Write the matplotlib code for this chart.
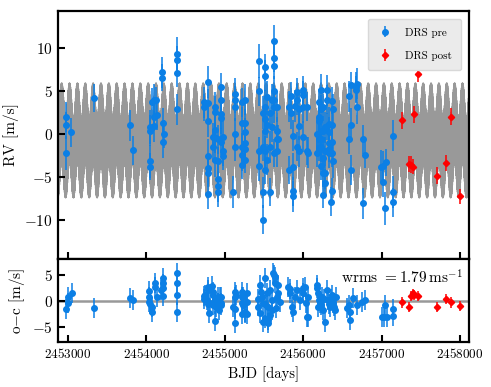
import numpy as np
import matplotlib
matplotlib.use('Agg')
import matplotlib.pyplot as plt
from matplotlib.ticker import ScalarFormatter

plt.rcParams['font.family'] = 'serif'
plt.rcParams['font.serif'] = ['cmr10']
plt.rcParams['mathtext.fontset'] = 'cm'
plt.rcParams['axes.formatter.use_mathtext'] = True

# ---- data ----
# DRS pre: RV panel
pre_t = [2452974, 2452974, 2452974, 2453038, 2453332, 2453791, 2453829,
         2454046, 2454046, 2454046, 2454046, 2454071, 2454097, 2454097, 2454097,
         2454122, 2454135, 2454199, 2454199, 2454212, 2454212, 2454224,
         2454390, 2454390, 2454390, 2454390, 2454735, 2454735,
         2454786, 2454786, 2454786, 2454786, 2454786, 2454786, 2454786,
         2454849, 2454849, 2454875, 2454875, 2454875, 2454875, 2454875,
         2454913, 2454913, 2454913, 2454913, 2454913,
         2454952, 2454952, 2454952, 2454952, 2454952, 2454977, 2454977, 2454977,
         2455105, 2455130, 2455130, 2455130, 2455130, 2455130,
         2455219, 2455219, 2455219, 2455219, 2455219,
         2455258, 2455258, 2455258, 2455258, 2455258, 2455258,
         2455436, 2455436, 2455436, 2455436, 2455487, 2455487, 2455487, 2455487,
         2455513, 2455513, 2455513, 2455513, 2455513, 2455513, 2455513,
         2455538, 2455538, 2455538, 2455577, 2455577, 2455577, 2455602, 2455602,
         2455628, 2455628, 2455628, 2455628, 2455628, 2455628, 2455628,
         2455666, 2455666, 2455666, 2455666, 2455679,
         2455819, 2455819, 2455844, 2455844, 2455870, 2455870, 2455870, 2455870,
         2455895, 2455921, 2455921, 2455921, 2455946, 2455946, 2455946,
         2455997, 2455997, 2455997, 2455997, 2456048, 2456048, 2456061,
         2456176, 2456176, 2456201, 2456201, 2456201, 2456201, 2456201,
         2456227, 2456227, 2456227, 2456227, 2456227, 2456227,
         2456253, 2456253, 2456253, 2456253, 2456253,
         2456278, 2456278, 2456278, 2456278, 2456304, 2456304, 2456304,
         2456329, 2456329, 2456329, 2456329, 2456329, 2456355,
         2456367, 2456367, 2456367, 2456367, 2456367, 2456380, 2456380,
         2456584, 2456584, 2456610, 2456610, 2456610, 2456673, 2456673,
         2456686, 2456686, 2456763, 2456763, 2456788,
         2456992, 2457018, 2457018, 2457043, 2457056, 2457145, 2457145, 2457145]
pre_rv = [2.0, 1.0, -2.2, 0.2, 4.2, 1.0, -1.9,
          0.8, 0.4, -3.2, -3.8, 3.7, 4.0, 2.0, 0.9,
          4.0, 2.2, 7.2, 6.6, 1.3, -0.9, 0.0,
          9.4, 8.6, 7.1, 2.9, 3.7, 3.1,
          6.1, 3.6, 1.5, -2.6, -4.0, -4.5, -7.0,
          -0.3, -1.5, 3.2, 2.6, 0.5, -0.4, -3.0,
          -0.6, -3.1, -5.3, -6.1, -6.8,
          5.5, 4.0, 2.3, 1.9, -0.9, -0.3, -2.0, -2.6,
          -6.8, 4.7, 4.0, 3.2, 0.0, -1.5,
          3.7, 1.3, -1.5, -2.4, -3.6,
          4.0, 1.3, 0.2, -1.0, -1.8, -3.0,
          8.5, 5.0, -2.0, -3.7, 2.5, -1.5, -6.8, -10.0,
          7.8, 6.8, 3.2, 1.7, 0.3, -2.0, -4.2,
          4.3, 1.1, -3.0, 2.5, -1.5, -6.8, 4.0, 0.8,
          10.9, 8.9, 8.0, 5.0, 4.0, 3.2, -2.2,
          3.2, 0.3, -0.6, -2.0, -0.6,
          3.2, -4.2, 4.4, 2.5, -0.2, -3.8, -6.7, -7.3,
          3.3, 4.9, 4.0, -1.5, 2.9, 0.9, -2.0,
          5.1, 4.6, 3.2, -0.3, 3.2, -2.0, -2.2,
          0.0, -2.2, 3.7, 2.0, 1.5, -0.6, -1.6,
          5.2, 2.9, 0.3, -0.6, -1.5, -3.7,
          3.1, 0.3, -2.8, -4.5, -7.1,
          0.8, -2.0, -4.5, -5.7, 5.1, 4.0, 0.9,
          1.2, 0.2, -1.0, -1.7, -2.2, -7.9,
          3.9, 1.1, -0.9, -2.2, -6.7, 2.9, -3.2,
          4.4, -0.6, 5.7, 1.1, -4.2, 5.5, 5.2,
          5.9, 3.1, -0.6, -8.1, -2.4,
          -3.8, -3.7, -5.6, -8.7, -3.3, -0.2, -6.8, -8.0]
pre_err = [1.8, 1.6, 2.0, 1.7, 1.6, 1.8, 1.7,
           2.0, 1.8, 1.9, 1.6, 1.7, 1.9, 1.6, 1.8,
           1.5, 1.7, 1.8, 1.6, 1.7, 1.9, 1.6,
           1.9, 1.7, 1.6, 1.8, 1.8, 1.6,
           1.9, 1.7, 1.8, 2.0, 1.6, 1.7, 1.8,
           1.6, 1.8, 1.7, 1.9, 1.6, 1.8, 2.0,
           1.7, 1.6, 1.9, 1.8, 1.7,
           1.6, 1.8, 1.7, 1.9, 1.6, 1.8, 1.7, 1.6,
           1.9, 1.8, 1.6, 1.7, 1.9, 1.6,
           1.7, 1.8, 1.6, 1.9, 1.7,
           1.8, 1.6, 1.7, 1.9, 1.8, 1.6,
           2.0, 1.7, 1.6, 1.8, 1.9, 1.7, 1.8, 1.7,
           1.6, 1.8, 1.9, 1.7, 1.6, 1.8, 1.7,
           1.9, 1.6, 1.8, 1.7, 1.9, 1.6, 1.8, 1.7,
           1.9, 1.7, 1.6, 1.8, 1.7, 1.9, 1.6,
           1.8, 1.7, 1.6, 1.9, 1.7,
           1.8, 1.6, 1.7, 1.9, 1.8, 1.6, 1.7, 1.8,
           1.9, 1.6, 1.8, 1.7, 1.9, 1.6, 1.8,
           1.7, 1.6, 1.9, 1.8, 1.7, 1.6, 1.8,
           1.9, 1.7, 1.6, 1.8, 1.7, 1.9, 1.6,
           1.8, 1.7, 1.6, 1.9, 1.8, 1.7,
           1.6, 1.8, 1.9, 1.7, 1.6,
           1.8, 1.7, 1.9, 1.6, 1.8, 1.7, 1.6,
           1.9, 1.8, 1.7, 1.6, 1.8, 1.7,
           1.6, 1.9, 1.8, 1.7, 1.6, 1.8, 1.9,
           1.8, 1.7, 1.6, 1.9, 1.8, 1.7, 1.6,
           1.8, 1.9, 1.7, 1.8, 1.6,
           1.9, 1.7, 1.8, 1.9, 1.6, 1.8, 1.9, 1.7]

# DRS pre: residuals
pre_oc_t = [2452974, 2453000, 2453000, 2453051, 2453332, 2453791, 2453829,
            2454033, 2454033, 2454033, 2454046, 2454071, 2454071, 2454110, 2454110,
            2454135, 2454186, 2454212, 2454212, 2454212, 2454212,
            2454390, 2454390, 2454390, 2454390,
            2454735, 2454735, 2454747, 2454773, 2454786, 2454786, 2454786, 2454798,
            2454811, 2454837, 2454849, 2454849, 2454849, 2454875, 2454875, 2454875,
            2454888, 2454913, 2454913, 2454913, 2454926, 2454939, 2454952, 2454952,
            2454952, 2455105, 2455130, 2455130, 2455130, 2455130, 2455143,
            2455219, 2455219, 2455219, 2455219, 2455232, 2455232, 2455258, 2455258,
            2455283, 2455283, 2455283,
            2455423, 2455423, 2455449, 2455449, 2455462, 2455474, 2455487, 2455487,
            2455513, 2455513, 2455525, 2455538, 2455551, 2455551, 2455551,
            2455577, 2455577, 2455602, 2455602, 2455615, 2455628, 2455640, 2455640,
            2455653, 2455666, 2455679, 2455679, 2455704,
            2455806, 2455832, 2455832, 2455857, 2455870, 2455895, 2455921, 2455959,
            2455997, 2455997, 2456023, 2456036, 2456048, 2456061, 2456061,
            2456176, 2456176, 2456189, 2456189, 2456201, 2456214, 2456227, 2456240,
            2456253, 2456265, 2456278, 2456304, 2456316, 2456329, 2456342, 2456355,
            2456367, 2456380, 2456393, 2456406, 2456418,
            2456559, 2456584, 2456597, 2456597, 2456635, 2456686, 2456750, 2456788,
            2457005, 2457031, 2457043, 2457069, 2457145, 2457145]
pre_oc = [-1.4, 0.85, -0.3, 1.5, -1.2, 0.7, 0.2,
          2.0, 0.85, -0.1, -0.5, -1.1, -2.0, 3.5, 2.8,
          0.85, 2.1, 4.4, 3.4, 2.5, 1.0,
          5.4, 3.5, 1.2, -2.0,
          1.0, 0.5, 1.2, 0.2, 2.1, 2.7, -0.5, -2.3,
          -0.4, 2.9, 1.7, 1.2, -0.8, -3.7, -0.6, 0.3,
          -1.1, -0.4, 0.85, -0.3, -1.7, 0.8, 0.85, -0.3,
          -0.8, -1.1, 1.8, 0.85, -1.4, -4.2, 1.2,
          1.7, 0.85, -0.3, -2.4, 0.8, -0.7, -2.1, -2.3,
          -0.2, -2.4, 1.5,
          0.5, -1.0, 3.1, -2.3, 1.7, 0.9, -0.4, -4.0,
          4.4, -3.2, -0.8, 1.5, -1.1, -3.6, -4.2,
          2.1, -2.6, 0.2, -1.7, 5.4, 5.0, 3.5, 4.6,
          -1.3, 0.8, 3.1, 1.5, -0.2,
          2.7, 1.5, 2.3, -1.1, -2.1, 0.8, 2.1, 0.2,
          1.5, 2.5, 2.7, -0.4, -3.0, 0.8, -3.0,
          3.1, 2.5, 1.5, -1.1, 0.3, -0.4, -0.8, 0.8,
          -1.7, 0.5, -4.0, 2.1, 0.2, -0.6, -1.1, 0.4,
          1.2, -0.4, -1.0, -1.7, 0.8,
          -1.3, -0.7, -3.6, -2.1, 0.6, -0.7, -0.2, 0.2,
          -3.0, -3.0, -0.7, -3.0, -1.5, -2.8]

# DRS post
post_t = [2457260, 2457349, 2457375, 2457400, 2457413, 2457464,
          2457707, 2457821, 2457885, 2458000]
post_rv = [1.6, -3.5, -3.6, -3.8, 2.3, 7.0, -4.9, -3.4, 2.0, -7.3]
post_err = [1.0, 0.9, 1.0, 0.9, 1.0, 0.9, 1.0, 0.9, 1.0, 0.9]
post_oc = [-0.2, -1.1, 1.0, 1.5, 1.2, 1.0, -1.1, 0.4, -0.2, -0.9]

# model curve (two sinusoidal terms)
model_offset = -0.75
P_long, K_long, T_long = 100.26, 2.2, 2452920.0
P_short, K_short = 3.1, 4.5

wrms_text = r'wrms $= 1.79\,\mathrm{ms}^{-1}$'

blue = '#0B7FE5'
red = '#FF0000'
grey = '#999999'

fig = plt.figure(figsize=(4.91, 3.87), dpi=100)
ax1 = fig.add_axes([0.118, 0.331, 0.837, 0.641])
ax2 = fig.add_axes([0.118, 0.116, 0.837, 0.215])

tm = np.linspace(2452860, 2458130, 40000)
model = (model_offset + K_long * np.cos(2 * np.pi * (tm - T_long) / P_long)
         + K_short * np.sin(2 * np.pi * tm / P_short))
ax1.plot(tm, model, color=grey, lw=1.2, zorder=1)

ax1.errorbar(pre_t, pre_rv, yerr=pre_err, fmt='o', ms=4, color=blue,
             ecolor=blue, elinewidth=1.1, capsize=0, label='DRS pre', zorder=3)
ax1.errorbar(post_t, post_rv, yerr=post_err, fmt='D', ms=3.2, color=red,
             ecolor=red, elinewidth=1.1, capsize=0, label='DRS post', zorder=3)

ax2.axhline(0, color=grey, lw=1.8, zorder=1)
ax2.errorbar(pre_oc_t, pre_oc, yerr=1.9, fmt='o', ms=4, color=blue,
             ecolor=blue, elinewidth=1.1, capsize=0, zorder=3)
ax2.errorbar(post_t, post_oc, yerr=post_err, fmt='D', ms=3.2, color=red,
             ecolor=red, elinewidth=1.1, capsize=0, zorder=3)

for ax in (ax1, ax2):
    ax.set_xlim(2452872, 2458115)
    ax.set_xticks([2453000, 2454000, 2455000, 2456000, 2457000, 2458000])
    ax.tick_params(direction='in', length=5, width=1.5, top=False, right=False)
    ax.tick_params(axis='y', labelsize=11)
    ax.tick_params(axis='x', labelsize=9.5)
    for s in ax.spines.values():
        s.set_linewidth(1.6)
    fmt = ScalarFormatter(useOffset=False)
    fmt.set_scientific(False)
    ax.xaxis.set_major_formatter(fmt)

ax1.set_ylim(-14.6, 14.4)
ax1.set_yticks([-10, -5, 0, 5, 10])
ax1.tick_params(labelbottom=False)
ax1.set_ylabel('RV [m/s]', fontsize=11)

ax2.set_ylim(-7.8, 8.1)
ax2.set_yticks([-5, 0, 5])
ax2.set_ylabel(r'o$-$c [m/s]', fontsize=11)
ax2.set_xlabel('BJD [days]', fontsize=10.5)
ax2.text(0.985, 0.88, wrms_text, transform=ax2.transAxes, ha='right', va='top',
         fontsize=11)

leg = ax1.legend(loc='upper right', fontsize=8, frameon=True, fancybox=True,
                 borderpad=0.8, labelspacing=1.2, handletextpad=1.0,
                 handlelength=1.6, borderaxespad=0.7)
leg.get_frame().set_facecolor('#ebebeb')
leg.get_frame().set_edgecolor('#d8d8d8')
leg.get_frame().set_alpha(1)

fig.savefig('out.png', dpi=100)
